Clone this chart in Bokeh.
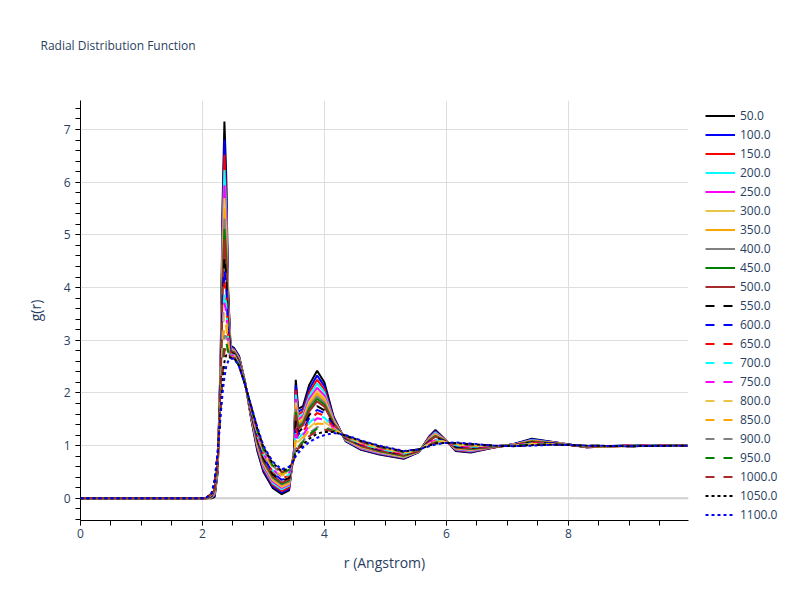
from bokeh.plotting import figure
from bokeh.models import Legend, LegendItem, Span, Range1d, SingleIntervalTicker, Title
from bokeh.embed import file_html
from bokeh.resources import INLINE

r = [0.0, 2.05, 2.15, 2.2, 2.25, 2.3, 2.33, 2.36, 2.39, 2.42, 2.46, 2.52, 2.6, 2.7, 2.8,
     2.9, 3.0, 3.15, 3.3, 3.42, 3.5, 3.53, 3.57, 3.65, 3.75, 3.88, 4.0, 4.15, 4.35, 4.6,
     4.9, 5.3, 5.55, 5.72, 5.82, 5.95, 6.15, 6.4, 6.8, 7.1, 7.4, 7.8, 8.3, 9.0, 9.95]

temperatures = ["50.0", "100.0", "150.0", "200.0", "250.0", "300.0", "350.0", "400.0",
                "450.0", "500.0", "550.0", "600.0", "650.0", "700.0", "750.0", "800.0",
                "850.0", "900.0", "950.0", "1000.0", "1050.0", "1100.0"]

g_50 = [0, 0, 0, 0.03, 0.5, 2.8, 5.6, 7.15, 6.1, 4.0, 2.9, 2.85, 2.7, 2.2, 1.5, 0.9, 0.5, 0.2, 0.08, 0.15, 0.9, 2.25, 1.7, 1.75, 2.15, 2.42, 2.2, 1.55, 1.08, 0.92, 0.83, 0.75, 0.88, 1.18, 1.3, 1.15, 0.9, 0.87, 0.97, 1.03, 1.13, 1.06, 0.97, 1.0, 1.0]
g_100 = [0, 0, 0.01, 0.05, 0.53, 2.72, 5.35, 6.81, 5.85, 3.9, 2.88, 2.84, 2.69, 2.2, 1.52, 0.93, 0.53, 0.23, 0.11, 0.18, 0.89, 2.15, 1.64, 1.7, 2.07, 2.33, 2.13, 1.53, 1.09, 0.93, 0.84, 0.76, 0.88, 1.17, 1.28, 1.14, 0.91, 0.88, 0.97, 1.03, 1.12, 1.06, 0.97, 1.0, 1.0]
g_150 = [0, 0, 0.01, 0.07, 0.55, 2.64, 5.13, 6.52, 5.63, 3.82, 2.87, 2.82, 2.67, 2.19, 1.53, 0.96, 0.56, 0.26, 0.14, 0.21, 0.88, 2.06, 1.59, 1.65, 2.01, 2.25, 2.07, 1.51, 1.1, 0.94, 0.85, 0.77, 0.89, 1.16, 1.26, 1.14, 0.92, 0.89, 0.97, 1.02, 1.11, 1.05, 0.97, 1.0, 1.0]
g_200 = [0, 0, 0.02, 0.09, 0.58, 2.57, 4.92, 6.23, 5.42, 3.73, 2.85, 2.81, 2.66, 2.19, 1.55, 0.99, 0.59, 0.29, 0.17, 0.24, 0.87, 1.97, 1.54, 1.6, 1.94, 2.18, 2.01, 1.49, 1.1, 0.95, 0.86, 0.78, 0.89, 1.14, 1.25, 1.13, 0.93, 0.9, 0.98, 1.02, 1.11, 1.05, 0.98, 1.0, 1.0]
g_250 = [0, 0, 0.03, 0.11, 0.6, 2.5, 4.7, 5.94, 5.2, 3.65, 2.84, 2.8, 2.65, 2.19, 1.56, 1.01, 0.62, 0.32, 0.2, 0.26, 0.86, 1.89, 1.49, 1.56, 1.88, 2.1, 1.95, 1.47, 1.11, 0.96, 0.87, 0.79, 0.89, 1.13, 1.23, 1.13, 0.94, 0.91, 0.98, 1.02, 1.1, 1.05, 0.98, 1.0, 1.0]
g_300 = [0, 0, 0.03, 0.13, 0.62, 2.44, 4.52, 5.7, 5.02, 3.58, 2.83, 2.79, 2.64, 2.19, 1.57, 1.03, 0.65, 0.35, 0.22, 0.28, 0.85, 1.82, 1.45, 1.52, 1.83, 2.04, 1.9, 1.46, 1.12, 0.97, 0.88, 0.79, 0.89, 1.12, 1.22, 1.12, 0.95, 0.92, 0.98, 1.02, 1.09, 1.05, 0.98, 1.0, 1.0]
g_350 = [0, 0, 0.03, 0.14, 0.64, 2.39, 4.38, 5.5, 4.88, 3.52, 2.82, 2.78, 2.63, 2.18, 1.58, 1.05, 0.67, 0.37, 0.24, 0.3, 0.84, 1.76, 1.41, 1.48, 1.78, 1.99, 1.86, 1.44, 1.12, 0.98, 0.89, 0.8, 0.9, 1.12, 1.2, 1.12, 0.95, 0.93, 0.98, 1.02, 1.09, 1.05, 0.98, 1.0, 1.0]
g_400 = [0, 0, 0.04, 0.15, 0.65, 2.34, 4.23, 5.31, 4.73, 3.47, 2.81, 2.77, 2.62, 2.18, 1.59, 1.07, 0.69, 0.39, 0.26, 0.32, 0.83, 1.7, 1.38, 1.45, 1.74, 1.94, 1.82, 1.43, 1.13, 0.99, 0.89, 0.81, 0.9, 1.11, 1.19, 1.11, 0.96, 0.93, 0.98, 1.01, 1.08, 1.04, 0.98, 1.0, 1.0]
g_450 = [0, 0, 0.04, 0.16, 0.67, 2.3, 4.09, 5.11, 4.59, 3.41, 2.8, 2.77, 2.62, 2.18, 1.6, 1.09, 0.71, 0.41, 0.28, 0.34, 0.82, 1.64, 1.35, 1.42, 1.7, 1.89, 1.78, 1.42, 1.13, 1.0, 0.9, 0.81, 0.9, 1.1, 1.18, 1.11, 0.97, 0.94, 0.98, 1.01, 1.08, 1.04, 0.98, 1.0, 1.0]
g_500 = [0, 0, 0.05, 0.18, 0.68, 2.25, 3.94, 4.92, 4.44, 3.36, 2.79, 2.76, 2.61, 2.18, 1.61, 1.11, 0.73, 0.43, 0.3, 0.36, 0.82, 1.58, 1.31, 1.39, 1.65, 1.84, 1.74, 1.41, 1.14, 1.0, 0.91, 0.82, 0.9, 1.09, 1.17, 1.1, 0.97, 0.95, 0.98, 1.01, 1.07, 1.04, 0.98, 1.0, 1.0]
g_550 = [0, 0, 0.05, 0.2, 0.71, 2.16, 3.69, 4.58, 4.19, 3.26, 2.77, 2.74, 2.59, 2.17, 1.63, 1.14, 0.76, 0.46, 0.33, 0.39, 0.8, 1.48, 1.25, 1.34, 1.58, 1.75, 1.67, 1.39, 1.14, 1.02, 0.92, 0.83, 0.91, 1.08, 1.15, 1.1, 0.98, 0.96, 0.99, 1.01, 1.06, 1.04, 0.99, 1.0, 1.0]
g_600 = [0, 0, 0.06, 0.22, 0.73, 2.1, 3.51, 4.34, 4.01, 3.19, 2.76, 2.73, 2.58, 2.17, 1.64, 1.16, 0.79, 0.49, 0.35, 0.41, 0.8, 1.41, 1.21, 1.3, 1.52, 1.68, 1.62, 1.37, 1.15, 1.02, 0.93, 0.84, 0.91, 1.07, 1.14, 1.09, 0.99, 0.97, 0.99, 1.01, 1.05, 1.04, 0.99, 1.0, 1.0]
g_650 = [0, 0, 0.06, 0.23, 0.75, 2.04, 3.33, 4.09, 3.83, 3.12, 2.74, 2.72, 2.57, 2.17, 1.66, 1.18, 0.81, 0.51, 0.38, 0.43, 0.79, 1.34, 1.17, 1.26, 1.47, 1.62, 1.57, 1.35, 1.16, 1.03, 0.94, 0.84, 0.91, 1.06, 1.12, 1.09, 1.0, 0.98, 0.99, 1.0, 1.05, 1.03, 0.99, 1.0, 1.0]
g_700 = [0, 0, 0.07, 0.24, 0.77, 2.0, 3.19, 3.9, 3.69, 3.06, 2.73, 2.72, 2.57, 2.17, 1.67, 1.2, 0.83, 0.53, 0.39, 0.45, 0.78, 1.28, 1.14, 1.23, 1.43, 1.57, 1.53, 1.34, 1.16, 1.04, 0.94, 0.85, 0.91, 1.05, 1.11, 1.08, 1.01, 0.98, 0.99, 1.0, 1.04, 1.03, 0.99, 1.0, 1.0]
g_750 = [0, 0, 0.07, 0.26, 0.78, 1.95, 3.04, 3.71, 3.54, 3.01, 2.72, 2.71, 2.56, 2.16, 1.68, 1.22, 0.85, 0.55, 0.41, 0.47, 0.77, 1.22, 1.1, 1.2, 1.38, 1.52, 1.49, 1.33, 1.17, 1.05, 0.95, 0.86, 0.92, 1.05, 1.1, 1.08, 1.01, 0.99, 0.99, 1.0, 1.04, 1.03, 0.99, 1.0, 1.0]
g_800 = [0, 0, 0.08, 0.27, 0.8, 1.9, 2.9, 3.51, 3.4, 2.95, 2.71, 2.7, 2.55, 2.16, 1.69, 1.24, 0.87, 0.57, 0.43, 0.49, 0.77, 1.16, 1.07, 1.17, 1.34, 1.47, 1.45, 1.32, 1.17, 1.05, 0.96, 0.86, 0.92, 1.04, 1.09, 1.08, 1.02, 1.0, 0.99, 1.0, 1.03, 1.03, 0.99, 0.99, 1.0]
g_850 = [0, 0, 0.08, 0.28, 0.82, 1.85, 2.76, 3.32, 3.26, 2.89, 2.7, 2.69, 2.54, 2.16, 1.7, 1.26, 0.89, 0.59, 0.45, 0.51, 0.76, 1.1, 1.04, 1.13, 1.3, 1.42, 1.41, 1.31, 1.17, 1.06, 0.96, 0.87, 0.92, 1.03, 1.08, 1.07, 1.03, 1.0, 0.99, 1.0, 1.03, 1.03, 0.99, 0.99, 1.0]
g_900 = [0, 0, 0.08, 0.3, 0.84, 1.79, 2.58, 3.08, 3.08, 2.82, 2.69, 2.68, 2.53, 2.16, 1.71, 1.28, 0.92, 0.62, 0.47, 0.53, 0.75, 1.03, 0.99, 1.09, 1.24, 1.35, 1.36, 1.29, 1.18, 1.07, 0.97, 0.88, 0.92, 1.02, 1.06, 1.07, 1.03, 1.01, 1.0, 1.0, 1.02, 1.03, 1.0, 0.99, 1.0]
g_950 = [0, 0, 0.09, 0.31, 0.85, 1.76, 2.47, 2.93, 2.97, 2.78, 2.68, 2.68, 2.53, 2.16, 1.72, 1.29, 0.93, 0.63, 0.49, 0.54, 0.74, 0.99, 0.97, 1.07, 1.21, 1.32, 1.33, 1.28, 1.18, 1.08, 0.98, 0.88, 0.92, 1.01, 1.06, 1.06, 1.04, 1.02, 1.0, 1.0, 1.02, 1.02, 1.0, 0.99, 1.0]
g_1000 = [0, 0, 0.09, 0.32, 0.86, 1.72, 2.36, 2.79, 2.86, 2.74, 2.68, 2.67, 2.52, 2.16, 1.73, 1.31, 0.95, 0.65, 0.5, 0.56, 0.74, 0.95, 0.94, 1.05, 1.18, 1.28, 1.3, 1.27, 1.19, 1.08, 0.98, 0.89, 0.93, 1.01, 1.05, 1.06, 1.04, 1.02, 1.0, 0.99, 1.01, 1.02, 1.0, 0.99, 1.0]
g_1050 = [0, 0, 0.09, 0.33, 0.88, 1.67, 2.22, 2.59, 2.72, 2.68, 2.67, 2.66, 2.51, 2.15, 1.74, 1.32, 0.97, 0.67, 0.52, 0.57, 0.73, 0.89, 0.91, 1.02, 1.13, 1.23, 1.26, 1.26, 1.19, 1.09, 0.99, 0.89, 0.93, 1.0, 1.04, 1.05, 1.05, 1.03, 1.0, 0.99, 1.01, 1.02, 1.0, 0.99, 1.0]
g_1100 = [0, 0, 0.1, 0.35, 0.9, 1.6, 2.0, 2.3, 2.5, 2.6, 2.65, 2.65, 2.5, 2.15, 1.75, 1.35, 1.0, 0.7, 0.55, 0.6, 0.72, 0.8, 0.86, 0.97, 1.07, 1.15, 1.2, 1.24, 1.2, 1.1, 1.0, 0.9, 0.93, 0.99, 1.02, 1.05, 1.06, 1.04, 1.0, 0.99, 1.0, 1.02, 1.0, 0.99, 1.0]

series = [g_50, g_100, g_150, g_200, g_250, g_300, g_350, g_400, g_450, g_500,
          g_550, g_600, g_650, g_700, g_750, g_800, g_850, g_900, g_950, g_1000,
          g_1050, g_1100]

base_colors = ["black", "blue", "red", "cyan", "magenta", "#e8c547", "orange",
               "gray", "green", "brown"]
colors = [base_colors[i % 10] for i in range(len(series))]
dashes = ["solid" if i < 10 else ("9 9" if i < 20 else "3 3") for i in range(len(series))]

FONT = "Open Sans"
TXT = "#2a3f5f"

p = figure(frame_width=608, frame_height=420, output_backend="svg", toolbar_location=None,
           x_range=Range1d(0, 9.97), y_range=Range1d(-0.42, 7.55),
           min_border_left=80, min_border_right=10, min_border_top=100,
           min_border_bottom=78, background_fill_color="white",
           border_fill_color="white")
p.outline_line_color = None

# spacer (closest to the frame) then the visible title above it
p.add_layout(Title(text=" ", text_font=FONT, text_font_size="12px", standoff=28), "above")
p.add_layout(Title(text="Radial Distribution Function", text_font=FONT,
                   text_font_size="12px", text_font_style="normal", text_color=TXT,
                   align="left", offset=-40, standoff=0), "above")

p.xaxis.ticker = SingleIntervalTicker(interval=2, num_minor_ticks=4)
p.yaxis.ticker = SingleIntervalTicker(interval=1, num_minor_ticks=5)
for ax in (p.xaxis[0], p.yaxis[0]):
    ax.axis_line_color = "black"
    ax.axis_line_width = 1
    ax.major_tick_line_color = "#888888"
    ax.minor_tick_line_color = "black"
    ax.major_tick_out = 5
    ax.major_tick_in = 0
    ax.minor_tick_out = 5
    ax.minor_tick_in = 0
    ax.major_label_text_font = FONT
    ax.major_label_text_font_size = "12px"
    ax.major_label_text_color = TXT
    ax.axis_label_text_font = FONT
    ax.axis_label_text_font_size = "14px"
    ax.axis_label_text_font_style = "normal"
    ax.axis_label_text_color = TXT
p.xaxis.axis_label = "r (Angstrom)"
p.yaxis.axis_label = "g(r)"
p.xaxis.major_label_standoff = 3
p.xaxis.axis_label_standoff = 12
p.yaxis.major_label_standoff = 5
p.yaxis.axis_label_standoff = 16

p.xgrid.grid_line_color = "#dedede"
p.ygrid.grid_line_color = "#dedede"
p.add_layout(Span(location=0, dimension="width", line_color="#cfcfcf",
                  line_width=2, level="underlay"))

items = []
for t, g, c, d in zip(temperatures, series, colors, dashes):
    rend = p.line(r, g, line_color=c, line_width=2, line_dash=d)
    items.append(LegendItem(label=t, renderers=[rend]))

legend = Legend(items=items, location=(17, -3), margin=0, padding=0, spacing=2,
                ncols=1, label_height=15, glyph_height=15, glyph_width=30,
                label_standoff=5, label_text_font=FONT, label_text_font_size="12px",
                label_text_color=TXT, border_line_color=None,
                background_fill_alpha=0)
p.add_layout(legend, "right")

open("out.html", "w").write(file_html(p, INLINE))
